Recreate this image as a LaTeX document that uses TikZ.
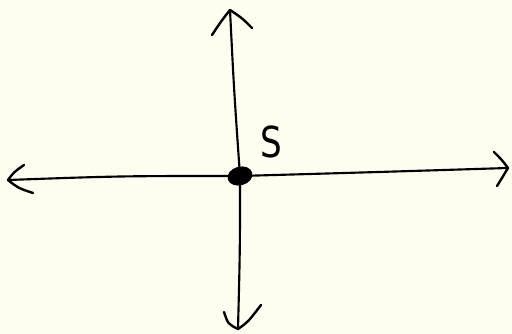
\documentclass[tikz,border=0pt]{standalone}
\usepackage{fontspec}
\setmainfont{DejaVu Sans}
\definecolor{paper}{HTML}{FFFDF0}
\usetikzlibrary{shapes.geometric}
\tikzset{
  axisline/.style={line width=1.6pt, line cap=round, line join=round, black},
  headline/.style={line width=1.8pt, line cap=round, line join=round, black},
  dotstyle/.style={ellipse, fill=black, inner sep=0pt, minimum width=19pt, minimum height=14pt},
  lbl/.style={font=\fontsize{32}{32}\selectfont, inner sep=0pt, xscale=0.8}
}
\begin{document}
\begin{tikzpicture}[x=0.75pt,y=-0.75pt]
\fill[paper] (0,0) rectangle (512,334);
\useasboundingbox (0,0) rectangle (512,334);
% endpoints
\coordinate (top) at (230,10);
\coordinate (bot) at (238,329);
\coordinate (left) at (8,180);
\coordinate (right) at (508,168);
\coordinate (mid) at (240,176);
% axes
\draw[axisline] (top) .. controls (234,90) .. (mid) .. controls (240,250) .. (bot);
\draw[axisline] (left) .. controls (120,176) .. (mid) .. controls (380,172) .. (right);
% arrowheads
\coordinate (t1) at (212,35);
\coordinate (t2) at (252,28);
\draw[headline] (t1) .. controls (222,20) .. (top) .. controls (242,18) .. (t2);
\coordinate (l1) at (24,165);
\coordinate (l2) at (33,193);
\draw[headline] (l1) .. controls (14,172) .. (left) .. controls (18,188) .. (l2);
\coordinate (r1) at (494,152);
\coordinate (r2) at (497,186);
\draw[headline] (r1) .. controls (502,160) .. (right) .. controls (502,178) .. (r2);
\coordinate (b1) at (224,312);
\coordinate (b2) at (261,305);
\draw[headline] (b1) .. controls (228,324) .. (bot) .. controls (248,322) .. (b2);
% center dot
\node[dotstyle, rotate=15] (S) at (mid) {};
\node[lbl] (slabel) at (271,142) {S};
\end{tikzpicture}
\end{document}
